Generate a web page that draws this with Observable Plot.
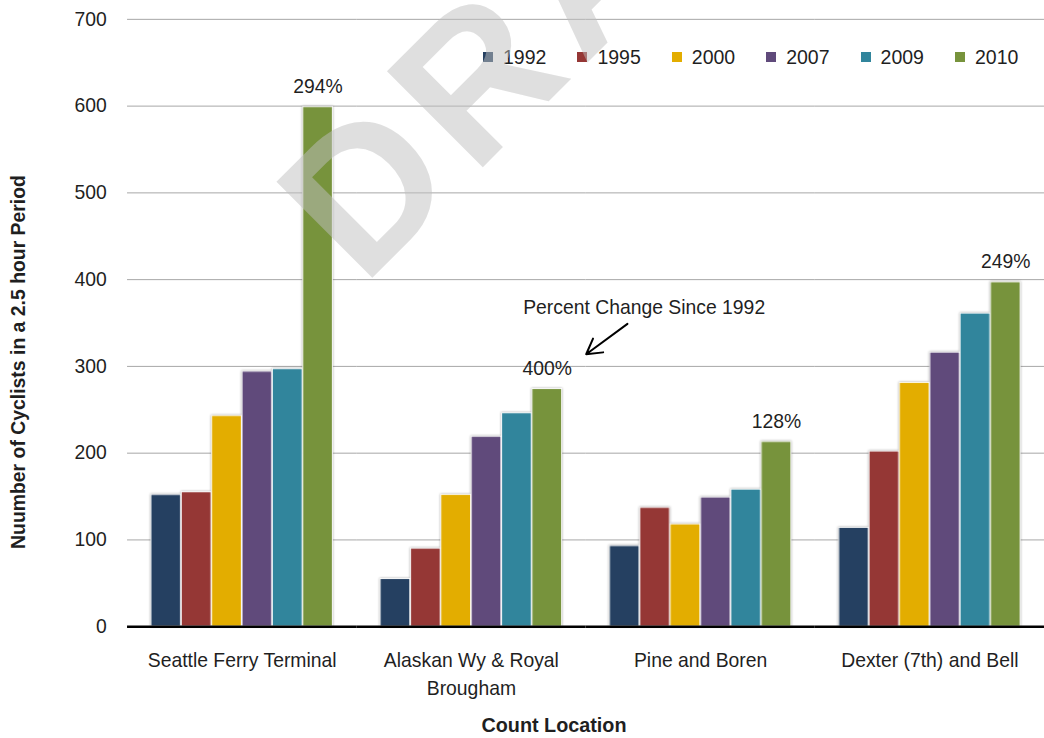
<!DOCTYPE html>
<html>
<head>
<meta charset="utf-8">
<script src="https://cdn.jsdelivr.net/npm/d3@7"></script>
<script src="https://cdn.jsdelivr.net/npm/@observablehq/plot@0.6"></script>
<style>
  html, body { margin: 0; padding: 0; background: #fff; overflow: hidden; width: 1044px; height: 738px; }
  #wrap { position: relative; width: 1044px; height: 738px; overflow: hidden; }
  #wrap svg.chart { position: absolute; left: 0; top: 0; display: block; }
  .lg-swatches { position: absolute; left: 483px; top: 42px; height: 30px; min-height: 30px !important; margin: 0 !important; color: #1f1f1f; flex-wrap: nowrap !important; white-space: nowrap; }
  .lg-swatch { margin-right: 31px !important; }
  .lg-swatch > svg { margin-right: 10px !important; }
  .ytitle { position: absolute; left: 18px; top: 362px; transform: translate(-50%, -50%) rotate(-90deg); white-space: nowrap; font-weight: bold; color: #1f1f1f; }
  .xtitle { position: absolute; left: 554px; top: 714px; transform: translateX(-50%); white-space: nowrap; font-weight: bold; color: #1f1f1f; }
  #wm { position: absolute; left: 0; top: 0; pointer-events: none; }
</style>
</head>
<body>
<div id="wrap"></div>
<script>
const FONT = '"Liberation Sans", Arial, sans-serif';

// ---- data ----
const locations = ["Seattle Ferry Terminal", "Alaskan Wy & Royal\nBrougham", "Pine and Boren", "Dexter (7th) and Bell"];
const years = ["1992", "1995", "2000", "2007", "2009", "2010"];
const v1992 = [152, 55, 93, 114];
const v1995 = [155, 90, 137, 202];
const v2000 = [243, 152, 118, 281];
const v2007 = [294, 219, 149, 316];
const v2009 = [297, 246, 158, 361];
const v2010 = [599, 274, 213, 397];
const pctLabels = ["294%", "400%", "128%", "249%"];
const yearColors = ["#254061", "#953735", "#e3ad00", "#604a7b", "#31859c", "#77933c"];
const yTicks = [0, 100, 200, 300, 400, 500, 600, 700];
const yTitle = "Nuumber of Cyclists in a 2.5 hour Period";
const xTitle = "Count Location";
const noteText = "Percent Change Since 1992";

const series = [v1992, v1995, v2000, v2007, v2009, v2010];
const rows = locations.flatMap((loc, i) => years.map((yr, j) => ({location: loc, year: yr, j, value: series[j][i]})));
const lastRows = locations.map((loc, i) => ({location: loc, j: years.length - 1, value: v2010[i], label: pctLabels[i]}));
const note = [{location: locations[1], x: 8.69, y: 367, text: noteText}];
const noteArrow = [{location: locations[1], x1: 8.14, y1: 349, x2: 6.78, y2: 314}];

const chart = Plot.plot({
  width: 1052,
  height: 738,
  marginLeft: 127,
  marginRight: 0,
  marginTop: 19,
  marginBottom: 107,
  className: "chart",
  style: {fontFamily: FONT, fontSize: "19.5px", color: "#1f1f1f", background: "transparent", overflow: "visible"},
  fx: {domain: locations, padding: 0, axis: null, label: null},
  x: {domain: [-0.775, 6.775], axis: null},
  y: {domain: [0, 700], ticks: yTicks, tickSize: 0, tickPadding: 21, label: null},
  color: {domain: years, range: yearColors},
  marks: [
    Plot.ruleY(yTicks.filter(t => t > 0), {stroke: "#a6a6a6", strokeWidth: 1}),
    Plot.rectY(rows, {fx: "location", x1: "j", x2: d => d.j + 1, y1: 0, y2: "value", fill: "year",
      stroke: "#ffffff", strokeWidth: 1, insetLeft: 0.3, insetRight: 0.3}),
    Plot.ruleY([0], {stroke: "#000", strokeWidth: 2.5}),
    Plot.text(lastRows, {fx: "location", x: d => d.j + 0.5, y: "value", text: "label", lineAnchor: "bottom", dy: -14, fill: "#1f1f1f"}),
    Plot.text(note, {fx: "location", x: "x", y: "y", text: "text", fill: "#1f1f1f"}),
    Plot.arrow(noteArrow, {fx: "location", x1: "x1", y1: "y1", x2: "x2", y2: "y2", stroke: "#000", strokeWidth: 2, headLength: 13}),
    Plot.text(locations, {fx: d => d, text: d => d, frameAnchor: "bottom", lineAnchor: "top", dy: 21, lineHeight: 1.44, fill: "#1f1f1f"})
  ]
});

chart.querySelectorAll('g[aria-label="rect"]').forEach(g => {
  g.style.filter = "drop-shadow(0px 0px 1.2px rgba(0,0,0,0.35))";
});

const wrap = document.getElementById("wrap");
wrap.appendChild(chart);

const legend = Plot.legend({
  color: {domain: years, range: yearColors},
  swatchSize: 10,
  className: "lg",
  style: {fontFamily: FONT, fontSize: "19.5px"}
});
wrap.appendChild(legend);

const yt = document.createElement("div");
yt.className = "ytitle";
yt.style.fontFamily = FONT;
yt.style.fontSize = "19.4px";
yt.textContent = yTitle;
wrap.appendChild(yt);

const xt = document.createElement("div");
xt.className = "xtitle";
xt.style.fontFamily = FONT;
xt.style.fontSize = "19.8px";
xt.textContent = xTitle;
wrap.appendChild(xt);

// DRAFT watermark overlay
const wm = d3.select(wrap).append("svg").attr("id", "wm").attr("width", 1044).attr("height", 738);
wm.append("text")
  .attr("x", 363).attr("y", 287)
  .attr("transform", "rotate(-45, 363, 287)")
  .attr("font-family", '"Liberation Sans", Arial, sans-serif')
  .attr("font-weight", "bold")
  .attr("font-size", 197)
  .attr("letter-spacing", 14)
  .attr("fill", "#c0c0c0")
  .attr("fill-opacity", 0.5)
  .text("DRAFT");
</script>
</body>
</html>
